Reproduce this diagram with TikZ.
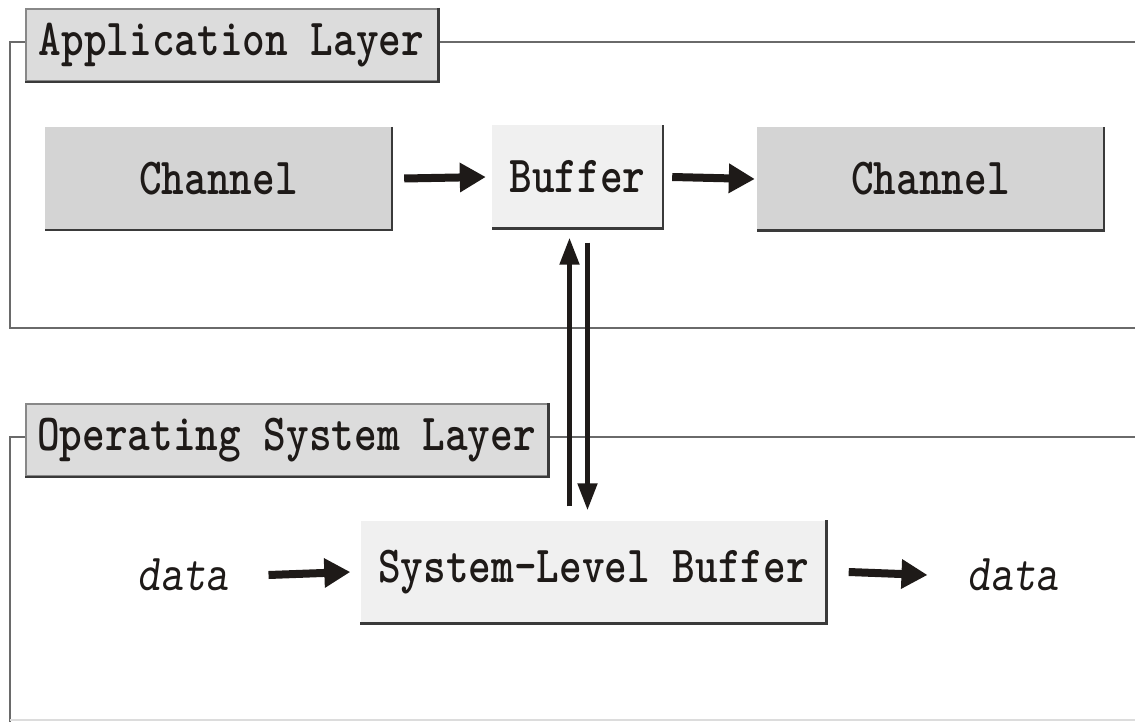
\documentclass[tikz,border=0pt]{standalone}
\usepackage{fontspec}
\usepackage{graphicx}
\usetikzlibrary{arrows.meta}
\newcommand\courfont{\fontsize{52}{60}\selectfont\ttfamily}
\newcommand\tx[1]{\scalebox{0.83}[1]{#1}}
\definecolor{lblfill}{HTML}{DCDCDC}
\definecolor{chfill}{HTML}{D4D4D4}
\definecolor{buffill}{HTML}{F0F0F0}
\definecolor{framec}{HTML}{6A6A6A}
\definecolor{edgec}{HTML}{3A3A3A}
\definecolor{ink}{HTML}{1E1A18}
\tikzset{
  txt/.style={font=\courfont, text=ink, inner sep=0pt},
  layerlbl/.style={txt, fill=lblfill, draw=framec!80, line width=2pt, minimum height=72pt},
  chbox/.style={txt, fill=chfill, minimum width=347pt, minimum height=103pt},
  bufbox/.style={txt, fill=buffill, minimum height=103pt},
  frame/.style={draw=framec, line width=2pt},
  edge/.style={draw=edgec, line width=2.5pt},
  harrow/.style={draw=ink, line width=8pt, -{Triangle[length=26pt,width=28pt]}},
  varrow/.style={draw=ink, line width=5pt, -{Triangle[length=27pt,width=19pt]}}
}
\begin{document}
\begin{tikzpicture}[x=1pt,y=-1pt]
\useasboundingbox (0,0) rectangle (1135,722);
% layer frames
\draw[frame] (1135,42) -- (10,42) -- (10,328) -- (1135,328);
\draw[frame] (1135,437) -- (10,437) -- (10,722);
\draw[draw=lblfill, line width=2pt] (10,720) -- (1135,720);
% layer labels
\node[layerlbl, minimum width=412pt] (applbl) at (231.5,45) {\tx{\bfseries Application Layer}};
\node[layerlbl, minimum width=522pt] (oslbl) at (286.5,440) {\tx{\bfseries Operating System Layer}};
% boxes
\node[chbox] (c1) at (218.5,178.5) {\tx{\bfseries Channel}};
\node[bufbox, minimum width=171pt] (buf) at (577.5,177) {\tx{\bfseries Buffer}};
\node[chbox] (c2) at (930.5,179) {\tx{\bfseries Channel}};
\node[bufbox, minimum width=466pt] (sys) at (593.5,572) {\tx{\bfseries System-Level Buffer}};
\node[txt] (din) at (183,575) {\tx{\slshape data}};
\node[txt] (dout) at (1013,575) {\tx{\slshape data}};
% shadow edges
\foreach \n in {applbl,oslbl,c1,buf,c2,sys}
  \draw[edge] (\n.north east) -- (\n.south east) -- (\n.south west);
% arrows
\draw[harrow] ([xshift=12pt]c1.east) -- ([xshift=-6pt]buf.west);
\draw[harrow] ([xshift=9pt]buf.east) -- ([xshift=-2pt]c2.west);
\draw[harrow] ([xshift=40pt]din.east) -- ([xshift=-10pt]sys.west);
\draw[harrow] ([xshift=22pt]sys.east) -- ([xshift=-40pt]dout.west);
\draw[varrow] ([xshift=-8pt]buf.south |- sys.north) ++(0,-14) -- ([xshift=-8pt,yshift=-9pt]buf.south);
\draw[varrow] ([xshift=10pt,yshift=-14pt]buf.south) -- ([xshift=10pt,yshift=10pt]buf.south |- sys.north);
\end{tikzpicture}
\end{document}
